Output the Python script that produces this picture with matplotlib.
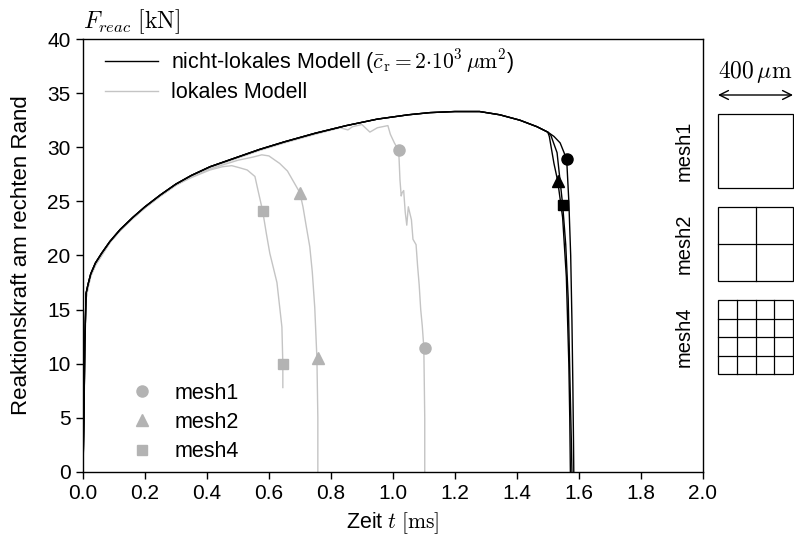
import matplotlib
matplotlib.use("Agg")
import matplotlib.pyplot as plt
import numpy as np
from matplotlib.patches import Rectangle

plt.rcParams.update({
    'font.family': 'sans-serif',
    'font.sans-serif': ['Liberation Sans', 'DejaVu Sans'],
    'mathtext.fontset': 'cm',
    'font.size': 15,
})

# --- Data --------------------------------------------------------------------
# shared hardening branch (non-local model, all meshes nearly identical)
t_rise = [0.0, 0.003, 0.006, 0.010, 0.016, 0.025, 0.04, 0.06, 0.087, 0.12, 0.16,
          0.20, 0.25, 0.30, 0.35, 0.41, 0.50, 0.57, 0.65, 0.75, 0.85, 0.95,
          1.05, 1.12, 1.20, 1.28, 1.345, 1.41, 1.465, 1.50]
F_rise = [0.0, 5.0, 12.0, 16.5, 17.3, 18.3, 19.3, 20.2, 21.3, 22.4, 23.5,
          24.5, 25.6, 26.6, 27.4, 28.2, 29.1, 29.8, 30.5, 31.3, 32.0, 32.6,
          33.0, 33.2, 33.3, 33.3, 33.0, 32.5, 31.9, 31.4]

# non-local model, softening tails
t_nl_mesh1 = [1.52, 1.54, 1.561, 1.568, 1.574, 1.578, 1.581, 1.583, 1.584]
F_nl_mesh1 = [31.0, 30.4, 28.9, 25.0, 20.0, 14.0, 8.0, 3.0, 0.0]
t_nl_mesh2 = [1.505, 1.52, 1.532, 1.548, 1.560, 1.568, 1.571, 1.573]
F_nl_mesh2 = [31.0, 28.5, 26.9, 23.5, 18.0, 10.0, 5.0, 0.0]
t_nl_mesh4 = [1.51, 1.53, 1.548, 1.558, 1.566, 1.572, 1.576, 1.578]
F_nl_mesh4 = [31.1, 29.5, 24.7, 21.0, 16.0, 8.0, 3.0, 0.0]

# local model
t_loc_mesh1 = [0.0, 0.003, 0.006, 0.010, 0.016, 0.025, 0.04, 0.06, 0.087, 0.12,
               0.16, 0.20, 0.25, 0.30, 0.35, 0.41, 0.50, 0.57, 0.65, 0.75,
               0.83, 0.855, 0.87, 0.90, 0.926, 0.95, 0.984, 0.992, 1.005,
               1.019, 1.023, 1.027, 1.030, 1.035, 1.040, 1.045, 1.050, 1.060,
               1.065, 1.075, 1.080, 1.085, 1.090, 1.095, 1.100, 1.103, 1.103]
F_loc_mesh1 = [0.0, 4.5, 11.5, 16.0, 17.0, 18.1, 19.1, 20.0, 21.2, 22.3,
               23.4, 24.4, 25.5, 26.5, 27.3, 28.1, 29.0, 29.7, 30.4, 31.2,
               31.8, 31.6, 31.9, 32.1, 31.4, 31.8, 32.0, 31.2, 30.4,
               29.7, 27.0, 25.5, 25.8, 26.0, 24.0, 22.8, 24.5, 23.3,
               21.5, 21.0, 19.0, 17.3, 15.0, 13.5, 11.5, 5.0, 0.0]
t_loc_mesh2 = [0.0, 0.003, 0.006, 0.010, 0.016, 0.025, 0.04, 0.06, 0.087, 0.12,
               0.16, 0.20, 0.25, 0.30, 0.35, 0.41, 0.50, 0.55, 0.577, 0.60,
               0.62, 0.635, 0.66, 0.68, 0.70, 0.71, 0.72, 0.732, 0.74, 0.748,
               0.755, 0.758, 0.758]
F_loc_mesh2 = [0.0, 4.5, 11.5, 16.0, 17.0, 18.1, 19.1, 20.0, 21.2, 22.3,
               23.4, 24.4, 25.5, 26.5, 27.3, 28.0, 28.8, 29.1, 29.3, 29.2,
               28.8, 28.5, 27.8, 26.8, 25.8, 24.5, 22.8, 20.8, 18.5, 15.2,
               10.5, 5.0, 0.0]
t_loc_mesh4 = [0.0, 0.003, 0.006, 0.010, 0.016, 0.025, 0.04, 0.06, 0.087, 0.12,
               0.16, 0.20, 0.25, 0.30, 0.35, 0.41, 0.45, 0.48, 0.506, 0.53,
               0.555, 0.565, 0.58, 0.592, 0.603, 0.615, 0.626, 0.635, 0.642,
               0.645, 0.645]
F_loc_mesh4 = [0.0, 4.5, 11.5, 16.0, 17.0, 18.1, 19.1, 20.0, 21.2, 22.3,
               23.4, 24.4, 25.5, 26.5, 27.2, 27.9, 28.2, 28.3, 28.1, 27.9,
               27.3, 26.0, 24.1, 22.0, 20.2, 18.8, 17.5, 15.2, 13.4,
               10.0, 7.8]

# markers
nl_mark_t = {'mesh1': [1.561], 'mesh2': [1.532], 'mesh4': [1.548]}
nl_mark_F = {'mesh1': [28.9], 'mesh2': [26.9], 'mesh4': [24.7]}
loc_mark_t = {'mesh1': [1.019, 1.103], 'mesh2': [0.700, 0.758], 'mesh4': [0.580, 0.645]}
loc_mark_F = {'mesh1': [29.7, 11.5], 'mesh2': [25.8, 10.5], 'mesh4': [24.1, 10.0]}
marker_style = {'mesh1': 'o', 'mesh2': '^', 'mesh4': 's'}

x_ticks = np.arange(0, 2.01, 0.2)
y_ticks = np.arange(0, 41, 5)

LINE_GREY = '#c4c4c4'
MARK_GREY = '#b3b3b3'
FS = 15.5


def msize(key):
    return 8 if key != 'mesh4' else 7


# --- Plot --------------------------------------------------------------------
fig = plt.figure(figsize=(7.94, 5.38), dpi=100)
ax = fig.add_axes([0.1045, 0.1227, 0.7805, 0.8048])

# local model (grey)
for t, F in [(t_loc_mesh1, F_loc_mesh1), (t_loc_mesh2, F_loc_mesh2),
             (t_loc_mesh4, F_loc_mesh4)]:
    ax.plot(t, F, color=LINE_GREY, lw=1.0, zorder=2)

# non-local model (black)
for t_tail, F_tail in [(t_nl_mesh1, F_nl_mesh1), (t_nl_mesh2, F_nl_mesh2),
                       (t_nl_mesh4, F_nl_mesh4)]:
    ax.plot(t_rise + t_tail, F_rise + F_tail, color='black', lw=1.0, zorder=3)

for key in ['mesh1', 'mesh2', 'mesh4']:
    ax.plot(loc_mark_t[key], loc_mark_F[key], ls='none', marker=marker_style[key],
            color=MARK_GREY, ms=msize(key), zorder=4)
    ax.plot(nl_mark_t[key], nl_mark_F[key], ls='none', marker=marker_style[key],
            color='black', ms=msize(key), zorder=5)

ax.set_xlim(0, 2.0)
ax.set_ylim(0, 40)
ax.set_xticks(x_ticks)
ax.set_yticks(y_ticks)
ax.set_xticklabels([f"{v:.1f}" for v in x_ticks])
ax.tick_params(direction='out', length=5, width=1, top=False, right=False,
               labelsize=15, pad=4)
for s in ax.spines.values():
    s.set_linewidth(1.0)

ax.set_xlabel(r"Zeit $t$ $[\mathrm{ms}]$", fontsize=FS, labelpad=5)
ax.set_ylabel("Reaktionskraft am rechten Rand", fontsize=16, labelpad=11)
ax.text(0.0, 1.008, r"$F_{reac}\ [\mathrm{kN}]$", transform=ax.transAxes,
        ha='left', va='bottom', fontsize=17)

# legends
h_nl, = ax.plot([], [], color='black', lw=1.0,
                label=r"nicht-lokales Modell ($\bar{c}_\mathrm{r} = 2{\cdot}10^3\,\mu\mathrm{m}^2$)")
h_loc, = ax.plot([], [], color=LINE_GREY, lw=1.0, label="lokales Modell")
leg1 = ax.legend(handles=[h_nl, h_loc], loc='upper left', frameon=False,
                 fontsize=FS, handlelength=2.45, borderaxespad=0.3,
                 bbox_to_anchor=(0.012, 1.015),
                 handletextpad=0.6, labelspacing=0.28)
ax.add_artist(leg1)
h_m = [ax.plot([], [], ls='none', marker=marker_style[k], color=MARK_GREY,
               ms=msize(k), label=k)[0]
       for k in ['mesh1', 'mesh2', 'mesh4']]
ax.legend(handles=h_m, loc='lower left', frameon=False, fontsize=FS,
          bbox_to_anchor=(0.03, -0.022), handletextpad=0.5, labelspacing=0.38)

# --- Mesh sketches (figure pixel coordinates) -------------------------------
ov = fig.add_axes([0, 0, 1, 1], facecolor='none')
ov.set_xlim(0, 794)
ov.set_ylim(538, 0)
ov.axis('off')

box_x0, box_w = 718, 75
box_tops = [114, 207, 300]
box_h = 74
for (label, n), top in zip([('mesh1', 1), ('mesh2', 2), ('mesh4', 4)], box_tops):
    ov.add_patch(Rectangle((box_x0, top), box_w, box_h, fill=False,
                           ec='black', lw=0.9))
    for i in range(1, n):
        ov.plot([box_x0 + i * box_w / n] * 2, [top, top + box_h], color='black', lw=0.9)
        ov.plot([box_x0, box_x0 + box_w], [top + i * box_h / n] * 2, color='black', lw=0.9)
    ov.text(684, top + box_h / 2, label, rotation=90, ha='center', va='center',
            fontsize=14.5)

ov.annotate('', xy=(box_x0, 95), xytext=(box_x0 + box_w, 95),
            arrowprops=dict(arrowstyle='<->', color='black', lw=1.0,
                            shrinkA=0, shrinkB=0, mutation_scale=16))
ov.text(box_x0 + box_w / 2, 72, r"$400\,\mu\mathrm{m}$", ha='center',
        va='center', fontsize=17)

fig.savefig("out.png", dpi=100)
